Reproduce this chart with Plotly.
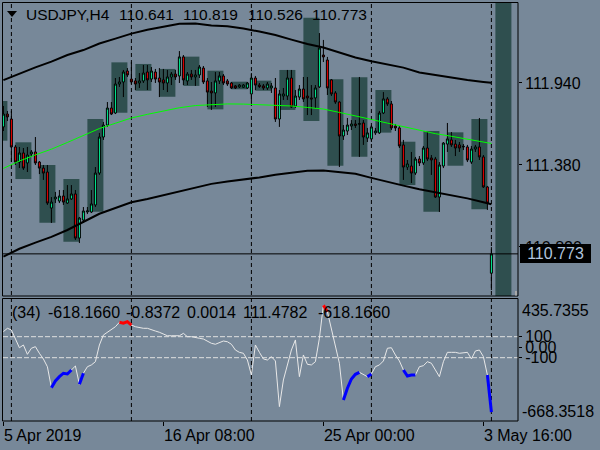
import plotly.graph_objects as go

W, H = 600, 450

# ---------------- data ----------------
bar_index = list(range(123))

opens = [111.640, 111.728, 111.694, 111.503, 111.400, 111.462, 111.394, 111.455, 111.469, 111.400,
         111.359, 111.332, 111.086, 111.148, 111.134, 111.168, 111.120, 111.148, 111.182, 110.881,
         111.004, 111.059, 111.059, 111.107, 111.325, 111.571, 111.653, 111.769, 111.735, 111.933,
         111.947, 112.022, 111.967, 111.954, 111.940, 111.954, 112.015, 111.967, 112.015, 111.974,
         111.961, 111.940, 111.981, 112.001, 111.988, 112.118, 111.954, 112.001, 111.981, 111.995,
         112.042, 111.954, 111.885, 111.872, 111.954, 111.988, 111.954, 111.940, 111.920, 111.913,
         111.910, 111.906, 111.865, 111.974, 111.926, 111.920, 111.906, 111.906, 111.906, 111.694,
         111.851, 111.851, 111.974, 111.783, 111.844, 111.899, 111.851, 111.838, 111.838, 111.913,
         112.131, 112.097, 111.961, 111.872, 111.810, 111.578, 111.612, 111.646, 111.660, 111.657,
         111.667, 111.564, 111.558, 111.599, 111.599, 111.735, 111.831, 111.797, 111.646, 111.633,
         111.517, 111.366, 111.373, 111.325, 111.421, 111.394, 111.496, 111.428, 111.421, 111.161,
         111.373, 111.523, 111.551, 111.523, 111.517, 111.503, 111.503, 111.400, 111.489, 111.503,
         111.435, 111.230, 110.641]
highs = [111.783, 111.749, 111.749, 111.517, 111.503, 111.496, 111.503, 111.482, 111.571, 111.407,
         111.380, 111.380, 111.161, 111.196, 111.209, 111.209, 111.243, 111.243, 111.209, 111.025,
         111.093, 111.093, 111.209, 111.366, 111.599, 111.674, 111.810, 111.810, 111.974, 111.981,
         112.029, 112.042, 112.083, 111.974, 112.008, 112.063, 112.063, 112.049, 112.036, 112.042,
         112.036, 112.029, 112.015, 112.029, 112.158, 112.131, 112.015, 112.029, 112.029, 112.063,
         112.056, 111.974, 111.947, 112.015, 112.015, 112.001, 111.967, 111.947, 111.926, 111.933,
         111.933, 111.947, 112.008, 111.988, 111.940, 111.933, 111.947, 111.940, 111.974, 111.892,
         111.906, 112.029, 112.029, 111.892, 111.926, 111.981, 111.981, 111.926, 111.926, 112.281,
         112.234, 112.118, 111.967, 111.885, 111.815, 111.653, 111.701, 111.687, 111.687, 111.981,
         111.687, 111.633, 111.653, 111.633, 111.749, 111.878, 111.844, 111.817, 111.660, 111.646,
         111.551, 111.414, 111.469, 111.435, 111.441, 111.510, 111.605, 111.448, 111.435, 111.400,
         111.537, 111.667, 111.605, 111.551, 111.537, 111.523, 111.517, 111.510, 111.517, 111.701,
         111.448, 111.237, 110.819]
lows = [111.612, 111.680, 111.400, 111.380, 111.359, 111.346, 111.332, 111.435, 111.380, 111.318,
        111.278, 111.107, 110.984, 111.120, 111.120, 111.107, 111.114, 111.141, 110.868, 110.847,
        110.984, 111.045, 111.052, 111.093, 111.312, 111.551, 111.640, 111.721, 111.728, 111.913,
        111.844, 111.981, 111.933, 111.892, 111.906, 111.940, 111.892, 111.947, 111.940, 111.844,
        111.892, 111.878, 111.926, 111.961, 111.940, 111.926, 111.926, 111.961, 111.920, 111.974,
        111.933, 111.776, 111.756, 111.776, 111.933, 111.926, 111.920, 111.899, 111.899, 111.906,
        111.906, 111.899, 111.810, 111.892, 111.906, 111.892, 111.892, 111.872, 111.674, 111.640,
        111.824, 111.824, 111.769, 111.769, 111.824, 111.810, 111.721, 111.721, 111.769, 111.906,
        112.083, 111.858, 111.851, 111.797, 111.366, 111.551, 111.585, 111.619, 111.633, 111.435,
        111.517, 111.537, 111.537, 111.585, 111.592, 111.728, 111.783, 111.619, 111.612, 111.496,
        111.278, 111.346, 111.257, 111.312, 111.373, 111.380, 111.407, 111.312, 111.155, 111.059,
        111.359, 111.469, 111.503, 111.441, 111.469, 111.482, 111.400, 111.387, 111.469, 111.414,
        111.223, 111.073, 110.526]
closes = [111.728, 111.708, 111.503, 111.400, 111.462, 111.359, 111.448, 111.469, 111.394, 111.359,
          111.325, 111.120, 111.127, 111.161, 111.168, 111.127, 111.148, 111.182, 110.881, 111.018,
          111.066, 111.066, 111.114, 111.325, 111.571, 111.653, 111.769, 111.728, 111.933, 111.947,
          112.015, 111.995, 111.947, 111.933, 111.954, 112.008, 111.961, 112.022, 111.967, 111.947,
          111.940, 111.981, 112.001, 111.981, 112.118, 111.961, 112.001, 111.981, 111.995, 112.049,
          111.947, 111.878, 111.872, 111.954, 111.988, 111.940, 111.933, 111.906, 111.906, 111.926,
          111.926, 111.940, 111.974, 111.926, 111.916, 111.906, 111.933, 111.920, 111.694, 111.865,
          111.865, 111.974, 111.776, 111.851, 111.899, 111.831, 111.838, 111.831, 111.906, 112.179,
          112.118, 111.906, 111.865, 111.810, 111.578, 111.619, 111.653, 111.660, 111.650, 111.663,
          111.571, 111.599, 111.640, 111.612, 111.735, 111.831, 111.797, 111.633, 111.633, 111.510,
          111.366, 111.387, 111.325, 111.421, 111.394, 111.496, 111.421, 111.414, 111.161, 111.380,
          111.530, 111.558, 111.517, 111.496, 111.496, 111.507, 111.414, 111.489, 111.503, 111.435,
          111.230, 111.120, 110.773]

band_bars = [0, 4, 8, 12, 16, 20, 24, 28, 32, 36, 40, 44, 48, 52, 56, 60,
             64, 68, 72, 76, 80, 84, 88, 92, 96, 100, 104, 108, 112, 116, 120, 122]
upper_band = [111.960, 112.006, 112.047, 112.086, 112.131, 112.165, 112.210, 112.243, 112.277, 112.304,
              112.324, 112.345, 112.346, 112.333, 112.327, 112.312, 112.291, 112.268, 112.236, 112.206,
              112.182, 112.147, 112.114, 112.089, 112.068, 112.045, 112.012, 111.993, 111.977, 111.960,
              111.947, 111.941]
lower_band = [110.754, 110.808, 110.850, 110.889, 110.936, 110.993, 111.047, 111.086, 111.125, 111.148,
              111.175, 111.197, 111.226, 111.251, 111.267, 111.279, 111.295, 111.314, 111.329, 111.340,
              111.342, 111.331, 111.320, 111.292, 111.263, 111.239, 111.215, 111.194, 111.174, 111.152,
              111.125, 111.112]
mid_band = [111.357, 111.407, 111.449, 111.488, 111.534, 111.579, 111.629, 111.665, 111.701, 111.726,
            111.750, 111.771, 111.786, 111.792, 111.797, 111.796, 111.793, 111.791, 111.783, 111.773,
            111.762, 111.739, 111.717, 111.691, 111.666, 111.642, 111.614, 111.594, 111.576, 111.556,
            111.536, 111.527]

# daily session boxes (start bar, span of 4 bars)
box_start = [-3, 3, 9, 15, 21, 27, 33, 39, 45, 51, 57, 63, 69, 75, 81, 87, 93, 99, 105, 111, 117]
box_high = [111.817, 111.535, 111.380, 111.284, 111.694, 112.081, 112.070, 112.036, 112.120, 112.024,
            111.949, 111.956, 112.029, 112.386, 111.965, 111.979, 111.892, 111.539, 111.612, 111.603,
            111.694]
box_low = [111.546, 111.284, 110.986, 110.856, 111.061, 111.737, 111.887, 111.846, 111.920, 111.760,
           111.897, 111.887, 111.756, 111.680, 111.375, 111.437, 111.601, 111.243, 111.061, 111.375,
           111.077]
box_span = 4
open_box_start = 123   # current session box, range still open

cci = [148, 180, 164, 85, -5, 21, -68, -10, 5, -58,
       -112, -186, -386, -322, -281, -248, -255, -217, -179, -353,
       -248, -186, -169, -138, 21, 116, 142, 173, 195, 237,
       228, 243, 211, 195, 186, 180, 180, 170, 154, 142,
       123, 109, 109, 109, 109, 132, 100, 100, 90, 85,
       78, 59, 37, 28, 47, 59, 52, 28, -27, -49,
       -58, -122, -265, 21, -49, -112, -122, -90, -131, -566,
       -312, -169, -27, 69, -281, -74, -163, -169, -138, 85,
       400, 338, 180, 21, -153, -503, -391, -303, -258, -239,
       -258, -281, -255, -186, -169, -131, -10, -5, -74, -131,
       -217, -274, -265, -265, -186, -176, -138, -153, -217, -281,
       -138, -49, -49, -49, -58, -55, -49, -112, -36, -27,
       -90, -265, -618.166]
cci_blue_bars = [12, 13, 14, 15, 16, 17, 19, 20, 85, 86, 87, 88, 89, 91, 92,
                 100, 101, 102, 103, 121, 122]
cci_red_bars = [29, 30, 31, 32, 80, 81]
cci_levels = [100, -100]

week_sep_bars = [2, 32, 62, 92, 122]
x_tick_bars = [0, 40, 80, 120]
x_tick_labels = ["5 Apr 2019", "16 Apr 08:00", "25 Apr 00:00", "3 May 16:00"]
price_ticks = [110.82, 111.38, 111.94]
price_tick_labels = ["110.820", "111.380", "111.940"]
cci_ticks = [100, 0, -100]
cci_tick_labels = ["100", "0.00", "-100"]
cci_max_label = "435.7355"
cci_min_label = "-668.3518"
last_price = 110.773
last_price_label = "110.773"
title_parts = ["USDJPY,H4", "110.641", "110.819", "110.526", "110.773"]
sub_parts = ["(34)", "-618.1660", "-0.8372", "0.0014", "111.4782", "-618.1660"]

# ---------------- styling helpers ----------------
BG = "#778899"
FONT = "Liberation Sans, Arial, sans-serif"


def px(x):
    return x / W


def py(y):
    return 1 - y / H


fig = go.Figure()

fig.add_trace(go.Candlestick(
    x=bar_index, open=opens, high=highs, low=lows, close=closes,
    increasing=dict(line=dict(color="black", width=1), fillcolor="#00FA9A"),
    decreasing=dict(line=dict(color="black", width=1), fillcolor="#F00000"),
    whiskerwidth=0, xaxis="x", yaxis="y", hoverinfo="skip"))

fig.add_trace(go.Scatter(x=band_bars, y=upper_band, mode="lines",
                         line=dict(color="black", width=2), xaxis="x", yaxis="y", hoverinfo="skip"))
fig.add_trace(go.Scatter(x=band_bars, y=lower_band, mode="lines",
                         line=dict(color="black", width=2), xaxis="x", yaxis="y", hoverinfo="skip"))
fig.add_trace(go.Scatter(x=band_bars, y=mid_band, mode="lines",
                         line=dict(color="#00FF00", width=1), xaxis="x", yaxis="y", hoverinfo="skip"))

fig.add_trace(go.Scatter(x=bar_index, y=cci, mode="lines",
                         line=dict(color="#E8E8E8", width=1), xaxis="x", yaxis="y2", hoverinfo="skip"))
blue_set = set(cci_blue_bars)
red_set = set(cci_red_bars)
fig.add_trace(go.Scatter(x=bar_index, y=[v if i in blue_set else None for i, v in enumerate(cci)],
                         mode="lines", connectgaps=False, line=dict(color="#0000FF", width=3),
                         xaxis="x", yaxis="y2", hoverinfo="skip"))
fig.add_trace(go.Scatter(x=bar_index, y=[v if i in red_set else None for i, v in enumerate(cci)],
                         mode="lines", connectgaps=False, line=dict(color="#FF0000", width=3),
                         xaxis="x", yaxis="y2", hoverinfo="skip"))

shapes = []
for s, hi, lo in zip(box_start, box_high, box_low):
    shapes.append(dict(type="rect", xref="x", yref="y", x0=s, x1=s + box_span, y0=lo, y1=hi,
                       fillcolor="#2F4F4F", line=dict(width=0), layer="below"))
shapes.append(dict(type="rect", xref="x", yref="y domain", x0=open_box_start,
                   x1=open_box_start + box_span, y0=0, y1=1,
                   fillcolor="#2F4F4F", line=dict(width=0), layer="below"))
for b in week_sep_bars:
    shapes.append(dict(type="line", xref="x", yref="paper", x0=b, x1=b, y0=py(421), y1=py(3),
                       line=dict(color="black", width=1, dash="4px,3px"), layer="below"))
shapes.append(dict(type="line", xref="x domain", yref="y", x0=0, x1=1, y0=last_price, y1=last_price,
                   line=dict(color="black", width=1)))
for lv in cci_levels:
    shapes.append(dict(type="line", xref="x domain", yref="y2", x0=0, x1=1, y0=lv, y1=lv,
                       line=dict(color="#E0E0E0", width=1, dash="5px,2px"), layer="below"))
# panel frames
shapes.append(dict(type="rect", xref="paper", yref="paper", x0=px(2.5), x1=px(518), y0=py(296), y1=py(2.5),
                   line=dict(color="black", width=1)))
shapes.append(dict(type="rect", xref="paper", yref="paper", x0=px(2.5), x1=px(518), y0=py(421), y1=py(298.5),
                   line=dict(color="black", width=1)))
# scroll marker
shapes.append(dict(type="rect", xref="paper", yref="paper", x0=px(515), x1=px(517), y0=py(295.5), y1=py(291),
                   fillcolor="#A9A9A9", line=dict(width=0)))
# symbol drop-down triangle
shapes.append(dict(type="path", xref="paper", yref="paper",
                   path=f"M {px(7)},{py(11)} L {px(17)},{py(11)} L {px(12)},{py(17)} Z",
                   fillcolor="black", line=dict(width=0)))

annotations = []
for text, x0 in zip(title_parts, [26, 119, 183, 248, 312]):
    annotations.append(dict(xref="paper", yref="paper", x=px(x0 - 2), y=py(15), xanchor="left",
                            yanchor="middle", text=text, showarrow=False,
                            font=dict(family=FONT, size=15.5, color="black")))
for text, x0 in zip(sub_parts, [12.3, 47.7, 126, 186.7, 242.7, 318.3]):
    annotations.append(dict(xref="paper", yref="paper", x=px(x0 - 2), y=py(312.5), xanchor="left",
                            yanchor="middle", text=text, showarrow=False,
                            font=dict(family=FONT, size=16, color="black")))
annotations.append(dict(xref="paper", yref="paper", x=px(520), y=py(310), xanchor="left", yanchor="middle",
                        text=cci_max_label, showarrow=False, font=dict(family=FONT, size=16, color="black")))
annotations.append(dict(xref="paper", yref="paper", x=px(520), y=py(411), xanchor="left", yanchor="middle",
                        text=cci_min_label, showarrow=False, font=dict(family=FONT, size=16, color="black")))
annotations.append(dict(xref="paper", yref="y", x=px(520), y=last_price, xanchor="left", yanchor="middle",
                        text=last_price_label, showarrow=False, bgcolor="black", bordercolor="black",
                        borderwidth=1, borderpad=0, width=69, height=17,
                        font=dict(family=FONT, size=16, color="#B0C4DE")))

axis_font = dict(family=FONT, size=16, color="black")

fig.update_layout(
    width=W, height=H,
    margin=dict(l=0, r=0, t=0, b=0, pad=0, autoexpand=False),
    paper_bgcolor=BG, plot_bgcolor=BG,
    showlegend=False, hovermode=False,
    boxgap=0.5, boxgroupgap=0,
    xaxis=dict(domain=[px(3), px(518)], range=[-0.1, 128.65], anchor="y2", automargin=False,
               showgrid=False, zeroline=False, showline=False,
               tickvals=x_tick_bars, ticktext=x_tick_labels, ticks="outside", ticklen=4,
               tickcolor="black", ticklabelposition="outside right", tickfont=axis_font,
               rangeslider=dict(visible=False)),
    yaxis=dict(domain=[py(296), py(3)], range=[110.4853, 112.4863], side="right", anchor="x",
               automargin=False, showgrid=False, zeroline=False, showline=False,
               tickvals=price_ticks, ticktext=price_tick_labels, ticks="outside", ticklen=3,
               tickcolor="black", tickfont=axis_font),
    yaxis2=dict(domain=[py(421), py(298.5)], range=[-702.9, 463.8], side="right", anchor="x",
                automargin=False, showgrid=False, zeroline=False, showline=False,
                tickvals=cci_ticks, ticktext=cci_tick_labels, ticks="outside", ticklen=3,
                tickcolor="black", tickfont=axis_font),
    shapes=shapes,
    annotations=annotations,
)

fig.write_html("out.html", config=dict(displayModeBar=False),
               post_script="document.body.style.margin='0';document.body.style.overflow='hidden';")
